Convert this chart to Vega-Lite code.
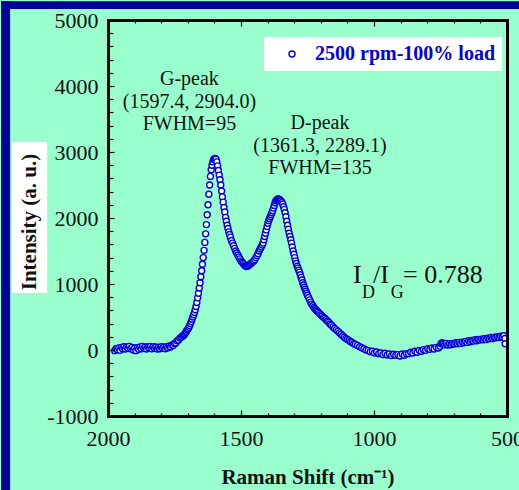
{
  "$schema": "https://vega.github.io/schema/vega-lite/v6.json",
  "width": 399,
  "height": 396,
  "autosize": {"type": "none"},
  "padding": {"left": 108, "top": 20, "right": 12, "bottom": 74},
  "background": "#99ffcc",
  "config": {"view": {"stroke": null}, "font": "Liberation Serif"},
  "resolve": {"axis": {"x": "independent", "y": "independent"}},
  "data": {"values": [
    {"x":1975,"y":-10},{"x":1970,"y":20},{"x":1965,"y":5},{"x":1960,"y":30},{"x":1955,"y":-5},{"x":1950,"y":40},{"x":1945,"y":20},{"x":1940,"y":50},{"x":1935,"y":15},{"x":1930,"y":45},
    {"x":1925,"y":25},{"x":1920,"y":55},{"x":1915,"y":20},{"x":1910,"y":40},{"x":1905,"y":0},{"x":1900,"y":30},{"x":1895,"y":-10},{"x":1890,"y":35},{"x":1885,"y":10},{"x":1880,"y":45},
    {"x":1875,"y":20},{"x":1870,"y":55},{"x":1865,"y":25},{"x":1860,"y":45},{"x":1855,"y":15},{"x":1850,"y":50},{"x":1845,"y":30},{"x":1840,"y":55},{"x":1835,"y":20},{"x":1830,"y":50},
    {"x":1825,"y":25},{"x":1820,"y":45},{"x":1815,"y":15},{"x":1810,"y":40},{"x":1805,"y":20},{"x":1800,"y":50},{"x":1795,"y":25},{"x":1790,"y":45},{"x":1785,"y":20},{"x":1780,"y":50},
    {"x":1775,"y":35},{"x":1770,"y":60},{"x":1765,"y":45},{"x":1760,"y":75},{"x":1755,"y":70},{"x":1750,"y":100},{"x":1745,"y":105},{"x":1740,"y":140},{"x":1735,"y":150},{"x":1730,"y":180},
    {"x":1725,"y":195},{"x":1720,"y":210},{"x":1717,"y":220},{"x":1714,"y":230},{"x":1711,"y":245},{"x":1708,"y":265},{"x":1705,"y":285},{"x":1702,"y":305},{"x":1699,"y":320},{"x":1696,"y":345},
    {"x":1693,"y":370},{"x":1690,"y":400},{"x":1687,"y":430},{"x":1684,"y":465},{"x":1681,"y":500},{"x":1678,"y":535},{"x":1675,"y":570},{"x":1672,"y":610},{"x":1669,"y":660},{"x":1666,"y":720},
    {"x":1663,"y":790},{"x":1660,"y":860},{"x":1657,"y":940},{"x":1654,"y":1020},{"x":1651,"y":1110},{"x":1648,"y":1200},{"x":1645,"y":1300},{"x":1642,"y":1400},{"x":1639,"y":1510},{"x":1636,"y":1630},
    {"x":1633,"y":1760},{"x":1630,"y":1900},{"x":1627,"y":2050},{"x":1624,"y":2200},{"x":1621,"y":2360},{"x":1618,"y":2500},{"x":1615,"y":2630},{"x":1612,"y":2730},{"x":1609,"y":2800},{"x":1606,"y":2850},
    {"x":1603,"y":2885},{"x":1600,"y":2900},{"x":1597,"y":2904},{"x":1594,"y":2890},{"x":1591,"y":2850},{"x":1588,"y":2790},{"x":1585,"y":2720},{"x":1582,"y":2650},{"x":1579,"y":2580},{"x":1576,"y":2500},
    {"x":1573,"y":2410},{"x":1570,"y":2320},{"x":1567,"y":2240},{"x":1564,"y":2160},{"x":1561,"y":2090},{"x":1558,"y":2010},{"x":1555,"y":1950},{"x":1552,"y":1890},{"x":1549,"y":1840},{"x":1546,"y":1790},
    {"x":1543,"y":1750},{"x":1540,"y":1710},{"x":1536,"y":1660},{"x":1532,"y":1620},{"x":1528,"y":1580},{"x":1524,"y":1540},{"x":1520,"y":1500},{"x":1516,"y":1470},{"x":1512,"y":1440},{"x":1508,"y":1410},
    {"x":1504,"y":1380},{"x":1500,"y":1350},{"x":1496,"y":1330},{"x":1492,"y":1310},{"x":1488,"y":1290},{"x":1484,"y":1275},{"x":1480,"y":1265},{"x":1476,"y":1270},{"x":1472,"y":1280},{"x":1468,"y":1295},
    {"x":1464,"y":1305},{"x":1460,"y":1320},{"x":1456,"y":1335},{"x":1452,"y":1350},{"x":1448,"y":1370},{"x":1444,"y":1400},{"x":1440,"y":1430},{"x":1436,"y":1460},{"x":1432,"y":1500},{"x":1428,"y":1530},
    {"x":1424,"y":1560},{"x":1420,"y":1590},{"x":1417,"y":1620},{"x":1414,"y":1670},{"x":1411,"y":1720},{"x":1408,"y":1770},{"x":1405,"y":1820},{"x":1402,"y":1870},{"x":1399,"y":1920},{"x":1396,"y":1960},
    {"x":1393,"y":1990},{"x":1390,"y":2020},{"x":1387,"y":2050},{"x":1384,"y":2080},{"x":1381,"y":2110},{"x":1378,"y":2150},{"x":1375,"y":2190},{"x":1372,"y":2230},{"x":1369,"y":2260},{"x":1366,"y":2275},
    {"x":1363,"y":2285},{"x":1361,"y":2289},{"x":1358,"y":2285},{"x":1355,"y":2280},{"x":1352,"y":2270},{"x":1349,"y":2255},{"x":1346,"y":2235},{"x":1343,"y":2210},{"x":1340,"y":2170},{"x":1337,"y":2130},
    {"x":1334,"y":2080},{"x":1331,"y":2020},{"x":1328,"y":1950},{"x":1325,"y":1890},{"x":1322,"y":1830},{"x":1319,"y":1770},{"x":1316,"y":1720},{"x":1313,"y":1670},{"x":1310,"y":1620},{"x":1307,"y":1560},
    {"x":1304,"y":1500},{"x":1301,"y":1450},{"x":1298,"y":1400},{"x":1295,"y":1350},{"x":1292,"y":1310},{"x":1289,"y":1270},{"x":1286,"y":1240},{"x":1283,"y":1210},{"x":1280,"y":1180},{"x":1277,"y":1140},
    {"x":1274,"y":1100},{"x":1271,"y":1060},{"x":1268,"y":1020},{"x":1265,"y":985},{"x":1262,"y":950},{"x":1259,"y":920},{"x":1256,"y":890},{"x":1253,"y":860},{"x":1250,"y":830},{"x":1246,"y":795},
    {"x":1242,"y":760},{"x":1238,"y":725},{"x":1234,"y":695},{"x":1230,"y":670},{"x":1226,"y":645},{"x":1222,"y":625},{"x":1218,"y":605},{"x":1214,"y":590},{"x":1210,"y":575},{"x":1205,"y":555},
    {"x":1200,"y":535},{"x":1195,"y":515},{"x":1190,"y":495},{"x":1185,"y":480},{"x":1180,"y":460},{"x":1175,"y":440},{"x":1170,"y":420},{"x":1165,"y":395},{"x":1160,"y":375},{"x":1154,"y":350},
    {"x":1148,"y":325},{"x":1142,"y":305},{"x":1136,"y":285},{"x":1130,"y":260},{"x":1124,"y":240},{"x":1118,"y":215},{"x":1112,"y":195},{"x":1106,"y":175},{"x":1100,"y":160},{"x":1094,"y":145},
    {"x":1088,"y":125},{"x":1082,"y":115},{"x":1076,"y":95},{"x":1070,"y":85},{"x":1062,"y":70},{"x":1054,"y":50},{"x":1046,"y":35},{"x":1038,"y":20},{"x":1030,"y":0},{"x":1022,"y":-5},
    {"x":1014,"y":-25},{"x":1006,"y":-20},{"x":998,"y":-45},{"x":990,"y":-30},{"x":982,"y":-55},{"x":974,"y":-45},{"x":966,"y":-70},{"x":958,"y":-50},{"x":950,"y":-75},{"x":942,"y":-60},
    {"x":934,"y":-85},{"x":926,"y":-65},{"x":918,"y":-80},{"x":910,"y":-70},{"x":902,"y":-90},{"x":894,"y":-60},{"x":886,"y":-80},{"x":878,"y":-55},{"x":870,"y":-55},{"x":862,"y":-35},
    {"x":854,"y":-45},{"x":846,"y":-20},{"x":838,"y":-35},{"x":830,"y":-5},{"x":822,"y":-20},{"x":814,"y":5},{"x":806,"y":-5},{"x":798,"y":20},{"x":790,"y":10},{"x":782,"y":30},
    {"x":774,"y":15},{"x":766,"y":40},{"x":758,"y":30},{"x":752,"y":55},{"x":748,"y":95},{"x":744,"y":110},{"x":740,"y":95},{"x":734,"y":80},{"x":728,"y":100},{"x":722,"y":75},
    {"x":716,"y":95},{"x":710,"y":80},{"x":704,"y":100},{"x":698,"y":90},{"x":692,"y":110},{"x":686,"y":95},{"x":680,"y":115},{"x":674,"y":100},{"x":668,"y":120},{"x":662,"y":110},
    {"x":656,"y":130},{"x":650,"y":115},{"x":644,"y":140},{"x":638,"y":125},{"x":632,"y":145},{"x":626,"y":135},{"x":620,"y":155},{"x":614,"y":140},{"x":608,"y":160},{"x":602,"y":150},
    {"x":596,"y":165},{"x":590,"y":155},{"x":584,"y":175},{"x":578,"y":160},{"x":572,"y":180},{"x":566,"y":170},{"x":560,"y":190},{"x":554,"y":175},{"x":548,"y":195},{"x":542,"y":185},
    {"x":536,"y":200},{"x":530,"y":190},{"x":524,"y":210},{"x":518,"y":200},{"x":512,"y":215},{"x":508,"y":175},{"x":507,"y":95}
  ]},
  "layer": [
    {
      "data": {"values": [{"x1": 2402, "x2": 100, "y1": 5285, "y2": 5166}, {"x1": 2402, "x2": 2368, "y1": 5285, "y2": -2500}]},
      "mark": {"type": "rect", "fill": "#000099", "clip": false},
      "encoding": {
        "x": {"field": "x1", "type": "quantitative", "scale": {"domain": [2000, 500], "nice": false, "zero": false},
              "axis": {"orient": "top", "values": [2000,1900,1800,1700,1600,1500,1400,1300,1200,1100,1000,900,800,700,600,500],
                       "labels": false, "title": null, "grid": false, "domain": true, "domainColor": "#000", "domainWidth": 3, "domainCap": "square",
                       "ticks": true, "tickColor": "#000", "tickWidth": 1.2,
                       "tickSize": {"condition": {"test": "datum.value % 500 === 0", "value": -6}, "value": -3}, "zindex": 1}},
        "x2": {"field": "x2"},
        "y": {"field": "y1", "type": "quantitative", "scale": {"domain": [-1000, 5000], "nice": false, "zero": false},
              "axis": {"orient": "right", "labels": false, "ticks": false, "title": null, "grid": false, "domain": true, "domainColor": "#000", "domainWidth": 3, "domainCap": "square", "zindex": 1}},
        "y2": {"field": "y2"}
      }
    },
    {
      "data": {"values": [{}]},
      "mark": {"type": "rect", "fill": "white"},
      "encoding": {
        "x": {"datum": 2361, "type": "quantitative", "scale": {"domain": [2000, 500], "nice": false, "zero": false}, "axis": null},
        "x2": {"datum": 2229},
        "y": {"datum": 3151, "type": "quantitative", "scale": {"domain": [-1000, 5000], "nice": false, "zero": false}, "axis": null},
        "y2": {"datum": 864}
      }
    },
    {
      "mark": {"type": "point", "shape": "circle", "filled": false, "fill": "white", "fillOpacity": 1, "size": 36, "strokeWidth": 1.4, "opacity": 1},
      "encoding": {
        "x": {"field": "x", "type": "quantitative", "scale": {"domain": [2000, 500], "nice": false, "zero": false},
              "axis": {"orient": "bottom", "values": [2000,1900,1800,1700,1600,1500,1400,1300,1200,1100,1000,900,800,700,600,500],
                       "labelExpr": "datum.value % 500 === 0 ? '' + datum.value : ''", "labelOverlap": false, "labelFlush": false, "labelBound": false,
                       "labelFont": "Liberation Serif", "labelFontSize": 22, "labelColor": "#111", "labelPadding": 18,
                       "title": "Raman Shift (cm⁻¹)", "titleFont": "Liberation Serif", "titleFontSize": 21, "titleFontWeight": "bold", "titleColor": "#111",
                       "titleX": 199.5, "titleY": 67, "titleBaseline": "alphabetic", "titleAlign": "center",
                       "grid": false, "domain": true, "domainColor": "#000", "domainWidth": 3, "domainCap": "square",
                       "ticks": true, "tickColor": "#000", "tickWidth": 1.2,
                       "tickSize": {"condition": {"test": "datum.value % 500 === 0", "value": -6}, "value": -3}, "zindex": 1}},
        "y": {"field": "y", "type": "quantitative", "scale": {"domain": [-1000, 5000], "nice": false, "zero": false},
              "axis": {"orient": "left", "values": [-1000,-800,-600,-400,-200,0,200,400,600,800,1000,1200,1400,1600,1800,2000,2200,2400,2600,2800,3000,3200,3400,3600,3800,4000,4200,4400,4600,4800,5000],
                       "labelExpr": "datum.value % 1000 === 0 ? '' + datum.value : ''", "labelOverlap": false, "labelFlush": false, "labelBound": false,
                       "labelFont": "Liberation Serif", "labelFontSize": 22, "labelColor": "#111", "labelPadding": 16,
                       "title": "Intensity (a. u.)", "titleFont": "Liberation Serif", "titleFontSize": 21, "titleFontWeight": "bold", "titleColor": "#111",
                       "titleX": -79, "titleY": 201.5, "titleAngle": -90, "titleBaseline": "middle", "titleAlign": "center",
                       "grid": false, "domain": true, "domainColor": "#000", "domainWidth": 3, "domainCap": "square",
                       "ticks": true, "tickColor": "#000", "tickWidth": 1.2,
                       "tickSize": {"condition": {"test": "datum.value % 1000 === 0", "value": -6}, "value": -5}, "zindex": 1}},
        "stroke": {"datum": "2500 rpm-100% load", "type": "nominal", "scale": {"range": ["#0000dd"]},
                   "legend": {"orient": "none", "legendX": 156, "legendY": 17, "title": null, "fillColor": "white", "padding": 7,
                              "symbolType": "circle", "symbolSize": 36, "symbolStrokeWidth": 1.4, "symbolFillColor": "white", "symbolStrokeColor": "#0000dd",
                              "symbolOffset": 11, "labelOffset": 13, "labelLimit": 400,
                              "labelFont": "Liberation Serif", "labelFontSize": 20, "labelFontWeight": "bold", "labelColor": "#0000dd"}}
      }
    },
    {
      "data": {"values": [{}]},
      "mark": {"type": "text", "text": ["G-peak", "(1597.4, 2904.0)", "FWHM=95"], "lineHeight": 22.5, "font": "Liberation Serif", "fontSize": 20, "color": "#111", "align": "center", "baseline": "alphabetic"},
      "encoding": {
        "x": {"datum": 1694, "type": "quantitative", "scale": {"domain": [2000, 500], "nice": false, "zero": false}, "axis": null},
        "y": {"datum": 4015, "type": "quantitative", "scale": {"domain": [-1000, 5000], "nice": false, "zero": false}, "axis": null}
      }
    },
    {
      "data": {"values": [{}]},
      "mark": {"type": "text", "text": ["D-peak", "(1361.3, 2289.1)", "FWHM=135"], "lineHeight": 22.5, "font": "Liberation Serif", "fontSize": 20, "color": "#111", "align": "center", "baseline": "alphabetic"},
      "encoding": {
        "x": {"datum": 1203, "type": "quantitative", "scale": {"domain": [2000, 500], "nice": false, "zero": false}, "axis": null},
        "y": {"datum": 3341, "type": "quantitative", "scale": {"domain": [-1000, 5000], "nice": false, "zero": false}, "axis": null}
      }
    },
    {
      "data": {"values": [{"t": "I", "xp": 1079, "yp": 1020, "sub": false}, {"t": "D", "xp": 1045, "yp": 783, "sub": true}, {"t": "/I", "xp": 1004, "yp": 1020, "sub": false}, {"t": "G", "xp": 937, "yp": 783, "sub": true}, {"t": "= 0.788", "xp": 891, "yp": 1020, "sub": false}]},
      "mark": {"type": "text", "font": "Liberation Serif", "color": "#111", "align": "left", "baseline": "alphabetic"},
      "encoding": {
        "x": {"field": "xp", "type": "quantitative", "scale": {"domain": [2000, 500], "nice": false, "zero": false}, "axis": null},
        "y": {"field": "yp", "type": "quantitative", "scale": {"domain": [-1000, 5000], "nice": false, "zero": false}, "axis": null},
        "text": {"field": "t"},
        "size": {"condition": {"test": "datum.sub", "value": 18}, "value": 26}
      }
    }
  ]
}
